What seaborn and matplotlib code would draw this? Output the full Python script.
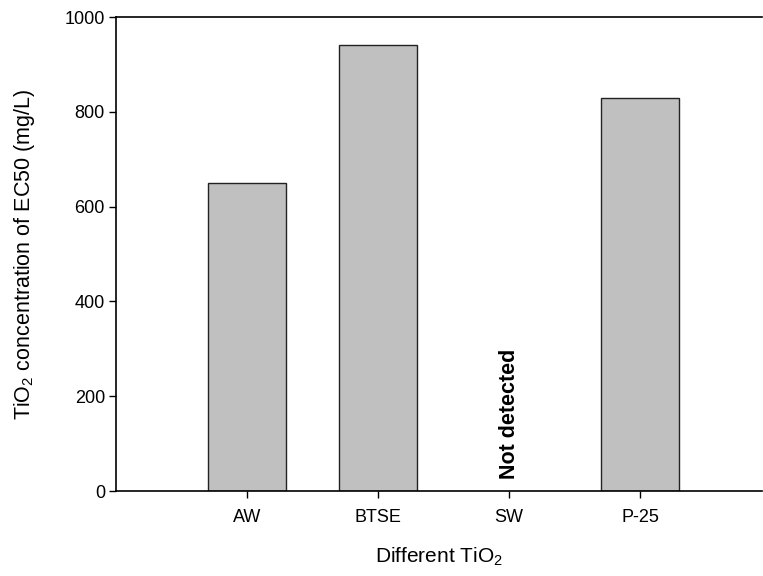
import matplotlib
matplotlib.use("Agg")
import matplotlib.pyplot as plt
import seaborn as sns
import numpy as np
import pandas as pd

categories = ["AW", "BTSE", "SW", "P-25"]
ec50 = [650, 940, np.nan, 830]
y_ticks = [0, 200, 400, 600, 800, 1000]

sns.set_theme(style="ticks")
plt.rcParams["font.family"] = ["Liberation Sans", "DejaVu Sans"]
plt.rcParams["mathtext.fontset"] = "custom"
plt.rcParams["mathtext.rm"] = "Liberation Sans"
plt.rcParams["text.color"] = "black"
plt.rcParams["axes.labelcolor"] = "black"

df = pd.DataFrame({"sample": categories, "ec50": ec50})

fig = plt.figure(figsize=(7.63, 5.76), dpi=100)
ax = fig.add_axes([116 / 763, 1 - 491 / 576, (762 - 116) / 763, (491 - 17) / 576])

sns.barplot(data=df, x="sample", y="ec50", order=categories, color="#c0c0c0",
            saturation=1, width=0.6, edgecolor="#222222", linewidth=1.0, ax=ax)

ax.set_xlim(-1, 3.93)
ax.set_ylim(0, 1000)
ax.set_yticks(y_ticks)
ax.tick_params(axis="both", direction="out", length=5, width=1, labelsize=13,
               colors="black")
ax.tick_params(axis="y", pad=3)
ax.tick_params(axis="x", pad=8)

for side in ["left", "bottom", "top"]:
    ax.spines[side].set_visible(True)
    ax.spines[side].set_linewidth(1.2)
    ax.spines[side].set_color("black")
ax.spines["right"].set_visible(False)

ax.set_xlabel("Different TiO$_\\mathrm{2}$", fontsize=15, labelpad=14)
ax.set_ylabel("TiO$_\\mathrm{2}$ concentration of EC50 (mg/L)", fontsize=15.5, labelpad=20)

sw_idx = categories.index("SW")
ax.text(sw_idx, 25, "Not detected", rotation=90, ha="center", va="bottom",
        fontsize=15.5, fontweight="bold", color="black")

fig.savefig("out.png", dpi=100)
